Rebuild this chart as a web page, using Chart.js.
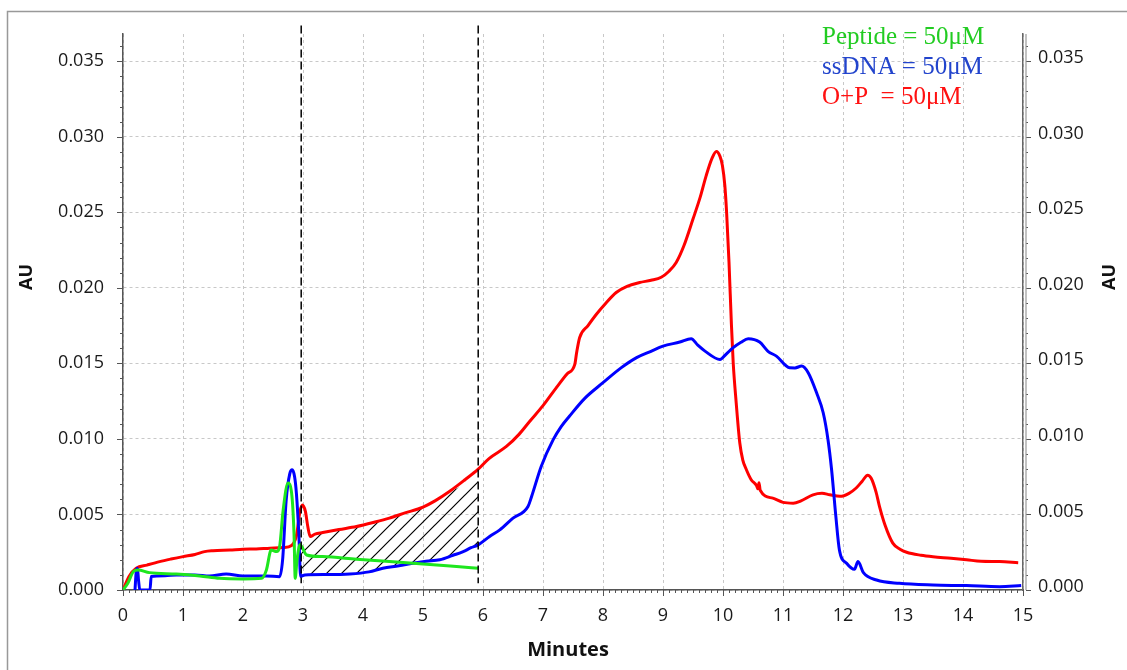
<!DOCTYPE html>
<html lang="pt-BR">
<head>
<meta charset="UTF-8">
<title>Cromatograma</title>
<script src="https://cdn.jsdelivr.net/npm/chart.js@4.4.0/dist/chart.umd.min.js"></script>
<style>
    html, body { margin: 0; padding: 0; background: #fff; }
    #grafico-wrap { width: 1127px; height: 670px; }
</style>
</head>
<body>
<div id="grafico-wrap"><canvas id="grafico-cromatograma" width="1127" height="670"></canvas></div>
<script>
const tempoPeptideo = [0, 0.08, 0.17, 0.25, 0.44, 0.89, 1.28, 1.61, 2.0, 2.31, 2.39, 2.47, 2.56, 2.61, 2.67, 2.75, 2.81, 2.85, 2.87, 2.9, 2.95, 3.06, 3.33, 3.89, 4.44, 5.0, 5.56, 5.92];
const auPeptideo = [0, 0.00044, 0.00121, 0.00133, 0.00115, 0.00106, 0.00093, 0.00077, 0.00073, 0.00077, 0.00133, 0.00265, 0.00254, 0.00287, 0.00531, 0.00708, 0.00642, 0.00376, 0.00077, 0.00199, 0.00299, 0.00232, 0.00221, 0.00204, 0.00188, 0.00172, 0.00155, 0.00144];

const tempoSsDNA = [0.2, 0.22, 0.24, 0.26, 0.28, 0.45, 0.47, 0.7, 0.89, 1.2, 1.44, 1.72, 2.0, 2.39, 2.61, 2.66, 2.72, 2.78, 2.82, 2.86, 2.89, 2.93, 2.96, 3.03, 3.4, 3.78, 4.1, 4.33, 4.6, 4.83, 5.05, 5.28, 5.5, 5.67, 5.8, 5.92, 6.11, 6.28, 6.5, 6.75, 6.81, 6.97, 7.17, 7.3, 7.44, 7.7, 8.0, 8.3, 8.56, 8.8, 9.0, 9.28, 9.47, 9.58, 9.7, 9.95, 10.05, 10.17, 10.3, 10.42, 10.61, 10.75, 10.89, 11.11, 11.2, 11.31, 11.42, 11.56, 11.67, 11.75, 11.81, 11.88, 11.94, 12.06, 12.19, 12.25, 12.34, 12.56, 12.94, 13.5, 14.06, 14.61, 14.97];
const auSsDNA = [0, 0.0012, 0.00144, 0.0006, 0, 0, 0.0009, 0.00095, 0.001, 0.001, 0.00093, 0.00106, 0.00093, 0.00093, 0.00088, 0.00199, 0.00597, 0.0077, 0.00796, 0.0075, 0.0064, 0.00376, 0.0009, 0.001, 0.00102, 0.00106, 0.0012, 0.00144, 0.0016, 0.00177, 0.0019, 0.002, 0.0023, 0.00254, 0.0028, 0.00299, 0.00354, 0.00398, 0.00476, 0.00553, 0.00619, 0.00818, 0.00995, 0.0108, 0.0115, 0.0127, 0.01372, 0.0147, 0.01538, 0.0158, 0.01614, 0.01641, 0.01663, 0.0162, 0.01581, 0.01526, 0.0156, 0.01604, 0.0164, 0.01663, 0.01641, 0.0158, 0.01548, 0.01471, 0.0147, 0.01482, 0.01438, 0.01305, 0.01173, 0.00995, 0.00796, 0.0049, 0.00265, 0.00177, 0.00137, 0.00188, 0.00115, 0.00066, 0.00044, 0.00033, 0.00029, 0.00022, 0.00029];

const tempoOP = [0, 0.1, 0.22, 0.4, 0.61, 0.8, 1.0, 1.2, 1.36, 1.5, 1.78, 2.0, 2.22, 2.45, 2.67, 2.81, 2.89, 2.95, 2.99, 3.04, 3.08, 3.12, 3.2, 3.33, 3.6, 3.89, 4.2, 4.44, 4.7, 5.0, 5.2, 5.44, 5.7, 5.92, 6.1, 6.39, 6.6, 6.78, 7.0, 7.22, 7.4, 7.53, 7.56, 7.61, 7.75, 7.89, 8.05, 8.22, 8.4, 8.61, 8.8, 8.97, 9.1, 9.22, 9.35, 9.5, 9.62, 9.72, 9.82, 9.89, 9.95, 9.99, 10.03, 10.06, 10.1, 10.14, 10.17, 10.22, 10.28, 10.33, 10.39, 10.47, 10.56, 10.58, 10.6, 10.62, 10.83, 11.0, 11.17, 11.3, 11.5, 11.65, 11.78, 11.95, 12.1, 12.22, 12.32, 12.41, 12.47, 12.55, 12.61, 12.7, 12.83, 12.95, 13.06, 13.3, 13.5, 13.8, 14.06, 14.3, 14.61, 14.92];
const auOP = [0, 0.0009, 0.00144, 0.00165, 0.00188, 0.00205, 0.00221, 0.00235, 0.00254, 0.0026, 0.00265, 0.0027, 0.00272, 0.00277, 0.00281, 0.00295, 0.0036, 0.0052, 0.00562, 0.0052, 0.0042, 0.00354, 0.0037, 0.0038, 0.004, 0.0042, 0.0045, 0.00476, 0.0051, 0.00549, 0.0059, 0.00652, 0.0073, 0.008, 0.0087, 0.0095, 0.0103, 0.01117, 0.0122, 0.01338, 0.0143, 0.01493, 0.0157, 0.0167, 0.0175, 0.01825, 0.019, 0.01969, 0.0201, 0.02035, 0.0205, 0.0207, 0.0211, 0.02168, 0.0228, 0.02455, 0.026, 0.02743, 0.0286, 0.02902, 0.0287, 0.0281, 0.0268, 0.025, 0.0217, 0.0176, 0.01504, 0.01239, 0.00973, 0.0086, 0.00796, 0.0073, 0.0069, 0.0067, 0.0071, 0.0066, 0.00608, 0.0058, 0.00575, 0.0059, 0.0063, 0.0064, 0.0063, 0.0062, 0.0064, 0.00675, 0.0072, 0.0076, 0.0074, 0.0065, 0.0055, 0.0043, 0.0031, 0.0027, 0.0025, 0.0023, 0.0022, 0.0021, 0.002, 0.0019, 0.00188, 0.00181];

// Região hachurada entre as curvas (3 a 6 min)
const tempoHachura = [2.97, 3.1, 3.4, 3.8, 4.2, 4.6, 5.0, 5.4, 5.7, 5.92];
const hachuraSuperior = [0.0026, 0.0035, 0.00385, 0.00415, 0.0045, 0.00495, 0.0055, 0.0064, 0.007, 0.0075];
const hachuraInferior = [0.001, 0.001, 0.00102, 0.00106, 0.00135, 0.0016, 0.00185, 0.0021, 0.0026, 0.00299];

// Linhas tracejadas verticais
const marcadoresTempo = [2.97, 5.92];

// Rótulos dos eixos
const marcasX = [0, 1, 2, 3, 4, 5, 6, 7, 8, 9, 10, 11, 12, 13, 14, 15];
const marcasY = [0, 0.005, 0.010, 0.015, 0.020, 0.025, 0.030, 0.035];

// Legenda em texto colorido
const legendaTextos = ['Peptide = 50μM', 'ssDNA = 50μM', 'O+P  = 50μM'];
const legendaCores = ['#22cc22', '#2244cc', '#ff1111'];

document.addEventListener('DOMContentLoaded', () => {

    const canvas = document.getElementById('grafico-cromatograma');
    const ctx = canvas.getContext('2d');

    // Padrão de hachura diagonal
    function criarHachura() {
        const tile = document.createElement('canvas');
        tile.width = 15;
        tile.height = 15;
        const g = tile.getContext('2d');
        g.strokeStyle = '#000';
        g.lineWidth = 1.2;
        g.beginPath();
        g.moveTo(0, 15); g.lineTo(15, 0);
        g.moveTo(-3, 3); g.lineTo(3, -3);
        g.moveTo(12, 18); g.lineTo(18, 12);
        g.stroke();
        return ctx.createPattern(tile, 'repeat');
    }

    const pontos = (xs, ys) => xs.map((t, i) => ({ x: t, y: ys[i] }));

    // Plugin para moldura, marcas menores, linhas tracejadas, títulos e legenda
    const pluginDecoracao = {
        id: 'decoracao',
        beforeDraw(chart) {
            const c = chart.ctx;
            c.save();
            c.fillStyle = '#fff';
            c.fillRect(0, 0, chart.width, chart.height);
            c.strokeStyle = '#999';
            c.lineWidth = 1.5;
            c.beginPath();
            c.moveTo(7.5, chart.height);
            c.lineTo(7.5, 11.5);
            c.lineTo(chart.width, 11.5);
            c.stroke();
            c.restore();
        },
        afterDatasetsDraw(chart) {
            const c = chart.ctx;
            const sx = chart.scales.x, sy = chart.scales.y;
            c.save();
            c.strokeStyle = '#000';
            c.lineWidth = 1.5;
            c.setLineDash([8, 4]);
            marcadoresTempo.forEach(t => {
                const px = sx.getPixelForValue(t);
                c.beginPath();
                c.moveTo(px, sy.getPixelForValue(0.03736));
                c.lineTo(px, sy.getPixelForValue(0.00045));
                c.stroke();
            });
            c.restore();
        },
        afterDraw(chart) {
            const c = chart.ctx;
            const { left, right, bottom, top } = chart.chartArea;
            const sx = chart.scales.x, sy = chart.scales.y;
            c.save();
            c.strokeStyle = '#555';
            c.lineWidth = 1;
            c.beginPath();
            // marcas do eixo X (0,1 min)
            for (let i = 0; i <= 150; i++) {
                const px = Math.round(sx.getPixelForValue(i / 10)) + 0.5;
                const len = i % 10 === 0 ? 6 : 3;
                c.moveTo(px, bottom);
                c.lineTo(px, bottom + len);
            }
            // marcas dos eixos Y (0,001 AU)
            for (let i = 0; i <= 36; i++) {
                const py = Math.round(sy.getPixelForValue(i / 1000)) + 0.5;
                const len = i % 5 === 0 ? 6 : 3;
                c.moveTo(left - len, py);
                c.lineTo(left, py);
                c.moveTo(right + 3, py);
                c.lineTo(right + 3 + len - 1, py);
            }
            c.stroke();

            // segunda linha do eixo direito
            c.strokeStyle = '#999';
            c.lineWidth = 1.2;
            c.beginPath();
            c.moveTo(right + 3, top);
            c.lineTo(right + 3, bottom);
            c.stroke();

            // títulos dos eixos
            c.fillStyle = '#111';
            c.font = 'bold 18px "Open Sans"';
            c.textAlign = 'center';
            c.textBaseline = 'middle';
            [[27, 277], [1110, 277]].forEach(([x, y]) => {
                c.save();
                c.translate(x, y);
                c.rotate(-Math.PI / 2);
                c.fillText('AU', 0, 0);
                c.restore();
            });
            c.font = 'bold 20px "Open Sans"';
            c.textBaseline = 'alphabetic';
            c.fillText('Minutes', 568, 656);

            // legenda
            c.font = '25px "Liberation Serif"';
            c.textAlign = 'left';
            legendaTextos.forEach((txt, i) => {
                c.fillStyle = legendaCores[i];
                c.fillText(txt, 822, 44 + i * 29.8);
            });
            c.restore();
        }
    };

    const padraoHachura = criarHachura();
    const fonteTicks = { family: 'Open Sans', size: 18 };

    new Chart(ctx, {
        type: 'line',
        data: {
            datasets: [
                {
                    label: 'Peptide',
                    data: pontos(tempoPeptideo, auPeptideo),
                    borderColor: '#1ee61e',
                    borderWidth: 3,
                    pointRadius: 0,
                    cubicInterpolationMode: 'monotone',
                    fill: false
                },
                {
                    label: 'ssDNA',
                    data: pontos(tempoSsDNA, auSsDNA),
                    borderColor: '#0000ff',
                    borderWidth: 3,
                    pointRadius: 0,
                    cubicInterpolationMode: 'monotone',
                    fill: false
                },
                {
                    label: 'O+P',
                    data: pontos(tempoOP, auOP),
                    borderColor: '#ff0000',
                    borderWidth: 3,
                    pointRadius: 0,
                    cubicInterpolationMode: 'monotone',
                    fill: false
                },
                {
                    label: 'hachura-topo',
                    data: pontos(tempoHachura, hachuraSuperior),
                    borderColor: 'rgba(0,0,0,0)',
                    borderWidth: 0,
                    pointRadius: 0,
                    backgroundColor: padraoHachura,
                    fill: '+1'
                },
                {
                    label: 'hachura-base',
                    data: pontos(tempoHachura, hachuraInferior),
                    borderColor: 'rgba(0,0,0,0)',
                    borderWidth: 0,
                    pointRadius: 0,
                    fill: false
                }
            ]
        },
        options: {
            responsive: false,
            animation: false,
            layout: { padding: { top: 34, left: 0, right: 0, bottom: 0 } },
            plugins: {
                legend: { display: false },
                tooltip: { enabled: false }
            },
            scales: {
                x: {
                    type: 'linear',
                    min: 0,
                    max: 15,
                    afterBuildTicks: scale => { scale.ticks = marcasX.map(v => ({ value: v })); },
                    afterFit: scale => { scale.height = 80; },
                    ticks: { font: fonteTicks, color: '#1a1a1a', padding: 15, maxRotation: 0 },
                    grid: { color: '#c8c8c8', lineWidth: 1, drawTicks: false },
                    border: { display: true, color: '#555', width: 1.5, dash: [3, 3] }
                },
                y: {
                    position: 'left',
                    min: 0,
                    max: 0.0368,
                    afterBuildTicks: scale => { scale.ticks = marcasY.map(v => ({ value: v })); },
                    afterFit: scale => { scale.width = 123; },
                    ticks: {
                        font: fonteTicks,
                        color: '#1a1a1a',
                        padding: 19,
                        callback: v => v.toFixed(3)
                    },
                    grid: { color: '#c8c8c8', lineWidth: 1, drawTicks: false },
                    border: { display: true, color: '#555', width: 1.5, dash: [3, 3] }
                },
                y2: {
                    position: 'right',
                    min: 0,
                    max: 0.0368,
                    afterBuildTicks: scale => { scale.ticks = marcasY.map(v => ({ value: v })); },
                    afterFit: scale => { scale.width = 104; },
                    ticks: {
                        font: fonteTicks,
                        color: '#1a1a1a',
                        padding: 15,
                        labelOffset: -3,
                        callback: v => v.toFixed(3)
                    },
                    grid: { display: false, drawTicks: false },
                    border: { display: true, color: '#666', width: 1.5 }
                }
            }
        },
        plugins: [pluginDecoracao]
    });
});
</script>
</body>
</html>
